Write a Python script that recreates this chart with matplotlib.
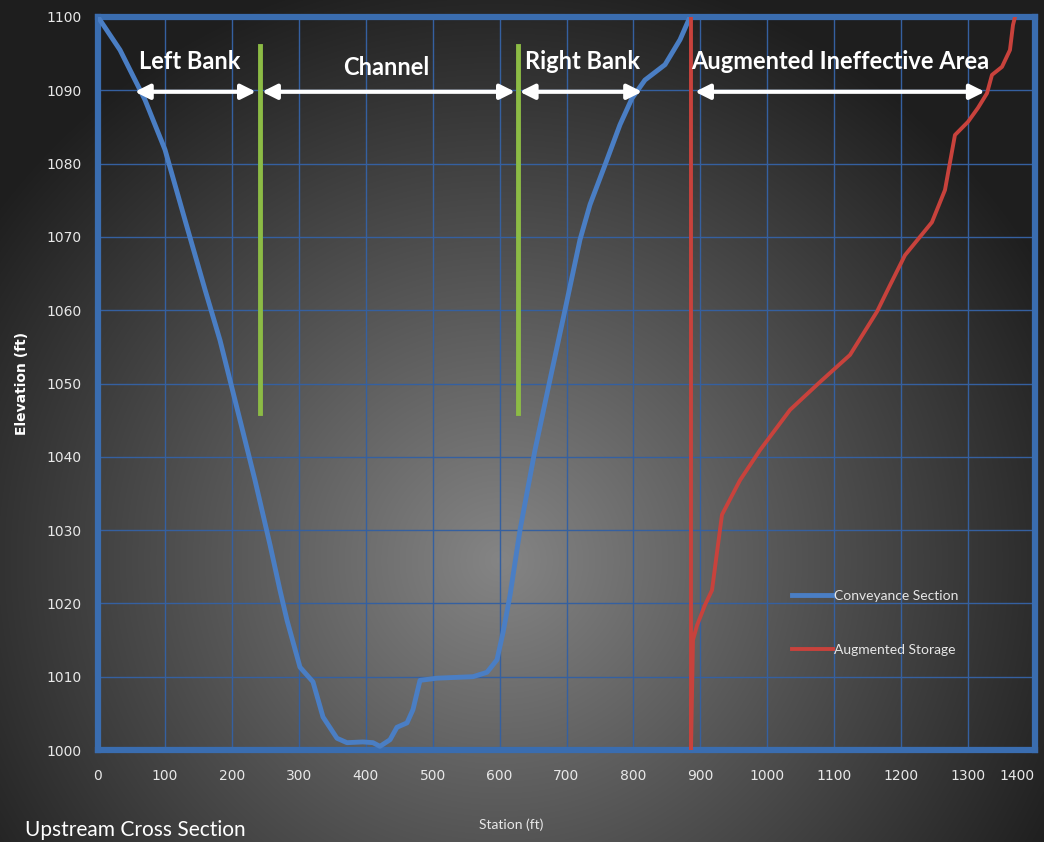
import numpy as np
import matplotlib
matplotlib.use("Agg")
import matplotlib.pyplot as plt

# ---------------- data ----------------
conv_station = [0, 32.9, 70.2, 100.1, 130.0, 159.9, 182.3, 212.2, 234.6, 257.0, 271.9,
                282.4, 301.8, 321.2, 336.2, 357.1, 372.0, 395.9, 410.9, 421.3, 436.3,
                446.7, 461.7, 470.6, 481.1, 506.5, 560.3, 581.2, 596.1, 605.1, 615.6,
                630.5, 652.9, 675.3, 697.7, 720.1, 735.1, 757.5, 779.9, 797.8, 817.2,
                847.2, 869.6, 884.5]
conv_elev = [1100, 1095.5, 1088.7, 1081.9, 1072.3, 1062.8, 1055.9, 1045.0, 1036.8, 1028.0,
             1021.8, 1017.7, 1011.3, 1009.3, 1004.5, 1001.6, 1001.0, 1001.1, 1001.0,
             1000.5, 1001.4, 1003.1, 1003.7, 1005.5, 1009.5, 1009.8, 1010.0, 1010.6,
             1012.3, 1016.0, 1021.1, 1030.0, 1040.9, 1050.5, 1060.0, 1069.6, 1074.4,
             1079.8, 1085.3, 1088.9, 1091.4, 1093.5, 1096.9, 1100]

stor_station = [886, 886, 889, 895, 907, 917.4, 932.3, 959.2, 989, 1034, 1078.7,
                1123.6, 1163.9, 1183.3, 1205.7, 1246, 1265.5, 1280.4, 1299.9, 1314.8,
                1328.3, 1335.7, 1350.7, 1362.6, 1367.1, 1370.1]
stor_elev = [1100, 1000, 1015, 1017, 1019.8, 1021.8, 1032.1, 1036.8, 1040.9, 1046.4,
             1050.2, 1053.9, 1059.8, 1063.4, 1067.5, 1072, 1076.4, 1083.9, 1085.7,
             1087.6, 1089.6, 1092.1, 1093.2, 1095.5, 1098.9, 1100]

x_ticks = list(range(0, 1401, 100))
y_ticks = list(range(1000, 1101, 10))

bank_stations = [242, 627.5]
region_labels = ["Left Bank", "Channel", "Right Bank", "Augmented Ineffective Area"]
region_spans = [(55, 236), (245, 623), (630, 813), (892, 1325)]
region_label_x = [137, 430, 724.6, 1108.6]
region_label_y = [1093.9, 1093.1, 1093.9, 1093.9]

series_names = ["Conveyance Section", "Augmented Storage"]

# ---------------- figure ----------------
W, H = 1044, 842
fig = plt.figure(figsize=(W / 100, H / 100), dpi=100)

# radial gradient background
bg = fig.add_axes([0, 0, 1, 1], zorder=-10)
yy, xx = np.mgrid[0:H, 0:W]
r = np.sqrt(((xx - 500) / 620.0) ** 2 + ((yy - 560) / 600.0) ** 2)
val = np.clip(0.52 - 0.40 * r, 0.12, 1)
bg.imshow(np.dstack([val, val, val]), aspect="auto", extent=[0, 1, 0, 1])
bg.axis("off")

ax = fig.add_axes([98 / W, 1 - 750 / H, (1035 - 98) / W, (750 - 17) / H])
ax.set_facecolor("none")

blue = "#4a7ec4"
red = "#c8423c"
grid_blue = "#3560a0"
green = "#8cbb45"
narrow = ["Lato", "DejaVu Sans"]

ax.plot(conv_station, conv_elev, color=blue, lw=3.5, label=series_names[0], zorder=5,
        solid_joinstyle="round")
ax.plot(stor_station, stor_elev, color=red, lw=2.8, label=series_names[1], zorder=5)

ax.set_xlim(0, 1400)
ax.set_ylim(1000, 1100)
ax.set_xticks(x_ticks)
ax.set_yticks(y_ticks)
ax.grid(True, color=grid_blue, lw=1.0)
ax.set_axisbelow(True)
for s in ax.spines.values():
    s.set_color("#3a6db0")
    s.set_linewidth(4.5)
ax.tick_params(length=0, colors="#e8e8e8", labelsize=10)
ax.tick_params(axis="x", pad=14)
ax.tick_params(axis="y", pad=12)
xl = ax.get_xticklabels()
xl[-1].set_ha("right")

# banks
for bx in bank_stations:
    ax.plot([bx, bx], [1046, 1096], color=green, lw=3.5, zorder=6)

# arrows and labels
for lab, (a, b), lx, ly in zip(region_labels, region_spans, region_label_x, region_label_y):
    ax.annotate("", xy=(a, 1089.8), xytext=(b, 1089.8),
                arrowprops=dict(arrowstyle="<|-|>", color="white", lw=3,
                                mutation_scale=22, shrinkA=0, shrinkB=0), zorder=7)
    ax.text(lx, ly, lab, color="white", fontsize=17, fontweight="bold",
            family=narrow, ha="center", va="center", zorder=7)

ax.set_ylabel("Elevation (ft)", color="white", fontsize=10, fontweight="bold")
ax.set_xlabel("Station (ft)", color="#e8e8e8", fontsize=10, family=narrow)
ax.xaxis.set_label_coords(0.441, -0.093)
ax.yaxis.set_label_coords(-0.074, 0.5)

leg = ax.legend(loc="upper left", bbox_to_anchor=(0.727, 0.235), frameon=False,
                prop=dict(family=narrow, size=10),
                handlelength=3.0, labelspacing=3.0, handletextpad=0.05)
for t in leg.get_texts():
    t.set_color("#e6e6e6")

fig.text(25 / W, 0.002, "Upstream Cross Section", color="white", fontsize=15,
         va="bottom", ha="left", family=narrow)

fig.savefig("out.png", dpi=100)
